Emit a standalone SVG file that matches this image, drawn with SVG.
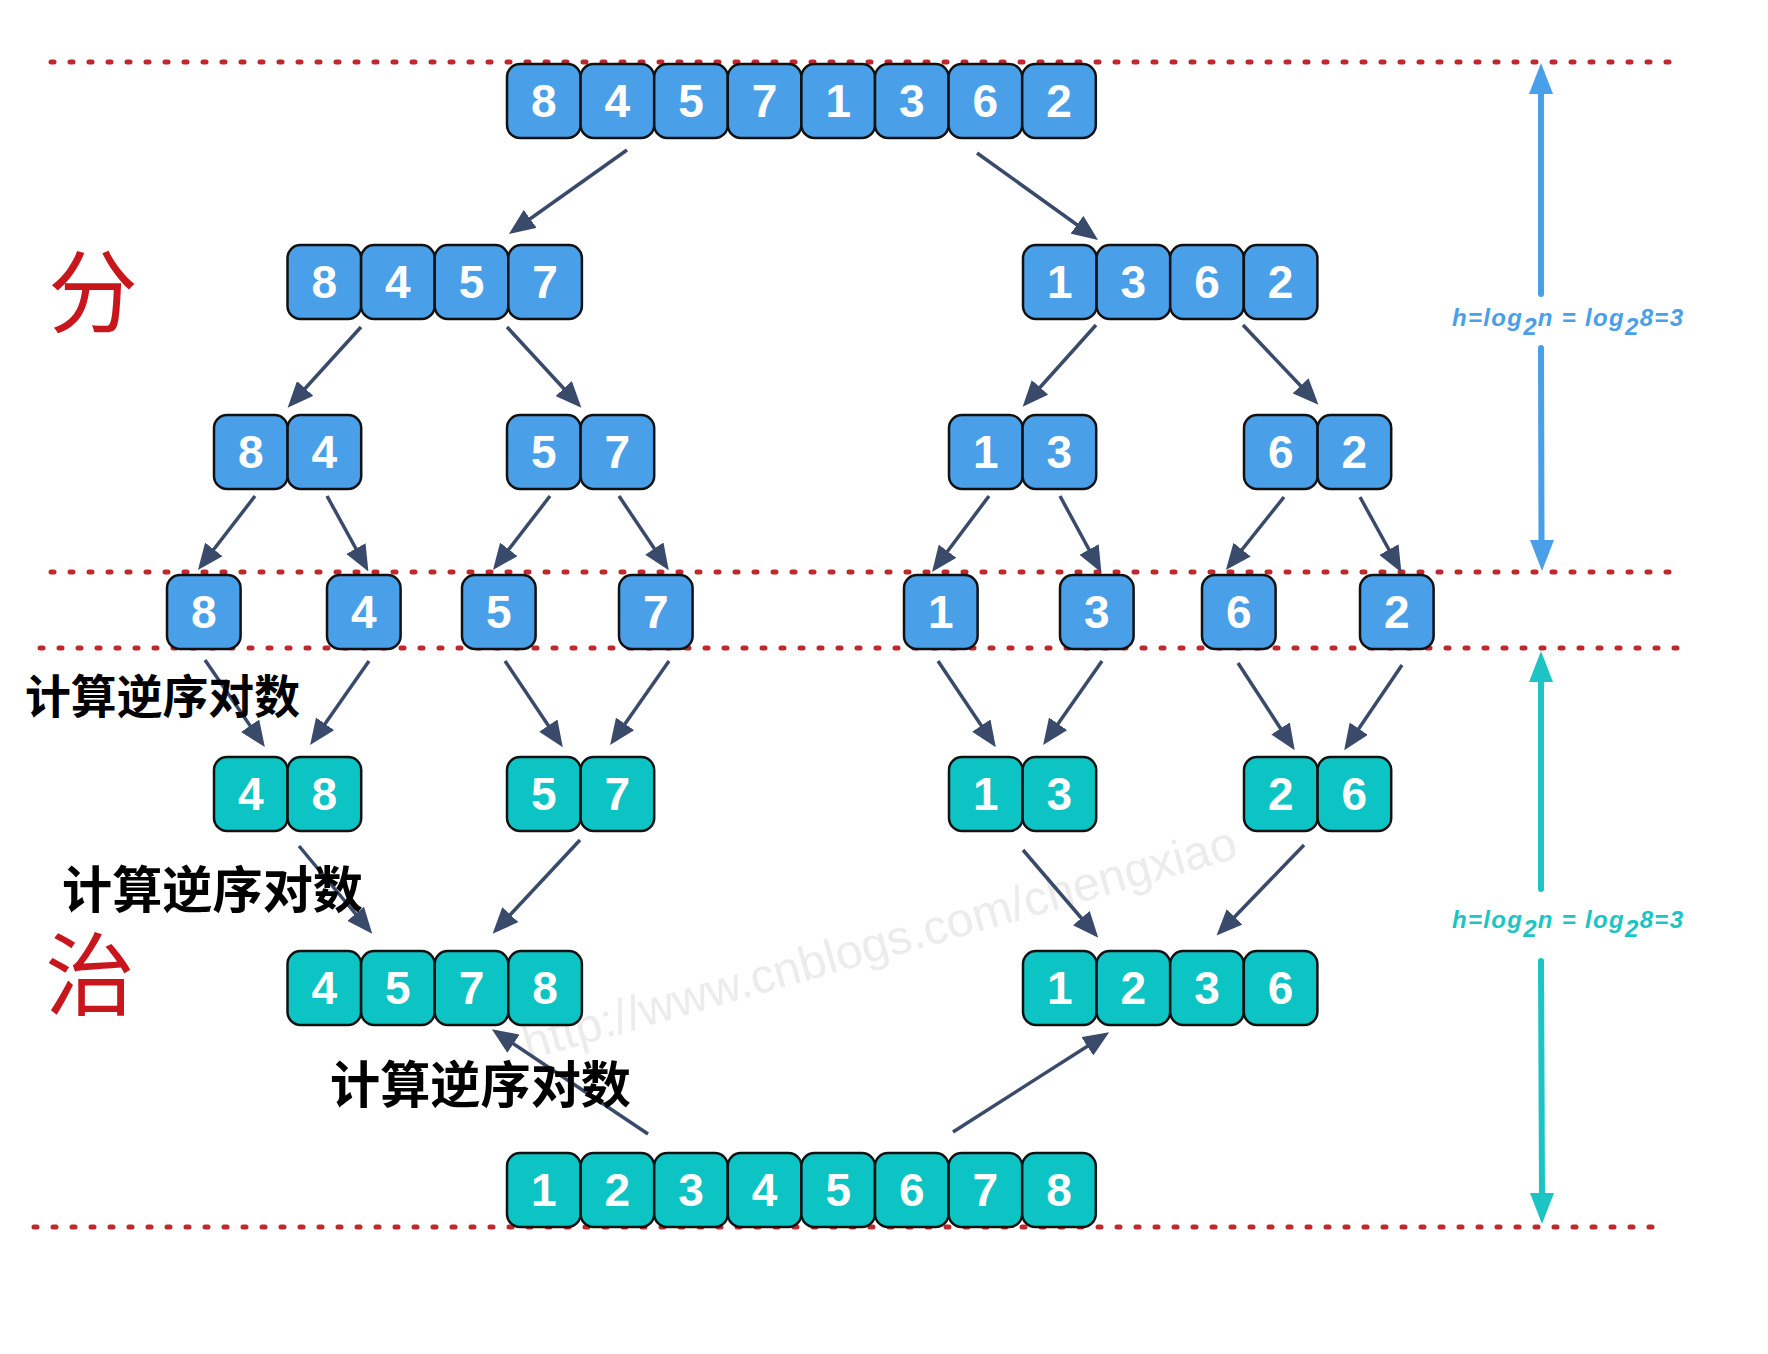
<svg xmlns="http://www.w3.org/2000/svg" width="1768" height="1354" viewBox="0 0 1768 1354">
<style>
.b{fill:#4A9FE9;stroke:#111;stroke-width:2.5}
.t{fill:#0CC4C4;stroke:#111;stroke-width:2.5}
.d{font-family:"Liberation Sans",Arial,sans-serif;font-weight:bold;font-size:46px;fill:#fff;text-anchor:middle}
.dot{stroke:#C0282D;stroke-width:5;stroke-linecap:round;stroke-dasharray:3 16;fill:none}
.ar{stroke:#3A4A6B;stroke-width:3.5;fill:none;marker-end:url(#ah)}
.lbl{font-family:"Noto Sans CJK SC","Liberation Sans",sans-serif;font-weight:bold;fill:#000}
.big{font-family:"Noto Sans CJK SC",serif;fill:#C8161D;font-size:90px;text-anchor:middle}
.f{font-family:"Liberation Sans",Arial,sans-serif;font-weight:bold;font-style:italic;font-size:24px}
</style>
<defs>
<marker id="ah" markerUnits="userSpaceOnUse" markerWidth="26" markerHeight="22" viewBox="0 0 26 22" refX="21" refY="11" orient="auto">
<path d="M0,0 L26,11 L0,22 z" fill="#3A4A6B"/>
</marker>
</defs>
<rect width="1768" height="1354" fill="#fff"/>

<!-- watermark -->
<text x="528" y="1060" transform="rotate(-15.9 528 1060)" font-family="Liberation Sans,Arial,sans-serif" font-size="48" fill="#ececec" textLength="740" lengthAdjust="spacingAndGlyphs">http://www.cnblogs.com/chengxiao</text>

<!-- dotted guide lines -->
<g id="guides">
<line class="dot" x1="51" y1="62" x2="1680" y2="62"/>
<line class="dot" x1="51" y1="572" x2="1680" y2="572"/>
<line class="dot" x1="40" y1="648" x2="1680" y2="648"/>
<line class="dot" x1="34" y1="1227" x2="1666" y2="1227"/>
</g>

<g id="connectors">
<line class="ar" x1="627" y1="150" x2="513" y2="231"/>
<line class="ar" x1="977" y1="153" x2="1094" y2="237"/>
<line class="ar" x1="361" y1="327" x2="291" y2="404"/>
<line class="ar" x1="507" y1="327" x2="578" y2="404"/>
<line class="ar" x1="1096" y1="325" x2="1026" y2="403"/>
<line class="ar" x1="1243" y1="325" x2="1315" y2="401"/>
<line class="ar" x1="255" y1="496" x2="201" y2="566"/>
<line class="ar" x1="327" y1="496" x2="366" y2="567"/>
<line class="ar" x1="550" y1="496" x2="496" y2="566"/>
<line class="ar" x1="619" y1="496" x2="666" y2="566"/>
<line class="ar" x1="989" y1="496" x2="935" y2="568"/>
<line class="ar" x1="1060" y1="496" x2="1099" y2="568"/>
<line class="ar" x1="1284" y1="497" x2="1229" y2="566"/>
<line class="ar" x1="1360" y1="497" x2="1399" y2="568"/>
<line class="ar" x1="205" y1="660" x2="262" y2="743"/>
<line class="ar" x1="369" y1="661" x2="313" y2="741"/>
<line class="ar" x1="505" y1="661" x2="560" y2="743"/>
<line class="ar" x1="669" y1="661" x2="613" y2="741"/>
<line class="ar" x1="938" y1="661" x2="993" y2="743"/>
<line class="ar" x1="1102" y1="661" x2="1046" y2="741"/>
<line class="ar" x1="1238" y1="663" x2="1292" y2="746"/>
<line class="ar" x1="1402" y1="665" x2="1347" y2="746"/>
<line class="ar" x1="299" y1="846" x2="369" y2="930"/>
<line class="ar" x1="580" y1="840" x2="496" y2="930"/>
<line class="ar" x1="1023" y1="850" x2="1095" y2="934"/>
<line class="ar" x1="1304" y1="845" x2="1220" y2="932"/>
<line class="ar" x1="648" y1="1134" x2="496" y2="1032"/>
<line class="ar" x1="953" y1="1132" x2="1105" y2="1035"/>
</g>

<!-- Row 0 -->
<g id="n0">
<rect class="b" x="507" y="64" width="73.6" height="74" rx="13"/>
<rect class="b" x="580.6" y="64" width="73.6" height="74" rx="13"/>
<rect class="b" x="654.2" y="64" width="73.6" height="74" rx="13"/>
<rect class="b" x="727.8" y="64" width="73.6" height="74" rx="13"/>
<rect class="b" x="801.4" y="64" width="73.6" height="74" rx="13"/>
<rect class="b" x="875" y="64" width="73.6" height="74" rx="13"/>
<rect class="b" x="948.6" y="64" width="73.6" height="74" rx="13"/>
<rect class="b" x="1022.2" y="64" width="73.6" height="74" rx="13"/>
<text class="d" x="543.8" y="117">8</text><text class="d" x="617.4" y="117">4</text><text class="d" x="691" y="117">5</text><text class="d" x="764.6" y="117">7</text><text class="d" x="838.2" y="117">1</text><text class="d" x="911.8" y="117">3</text><text class="d" x="985.4" y="117">6</text><text class="d" x="1059" y="117">2</text>
</g>

<!-- Row 1 -->
<g id="n1a">
<rect class="b" x="287.5" y="245" width="73.6" height="74" rx="13"/>
<rect class="b" x="361.1" y="245" width="73.6" height="74" rx="13"/>
<rect class="b" x="434.7" y="245" width="73.6" height="74" rx="13"/>
<rect class="b" x="508.3" y="245" width="73.6" height="74" rx="13"/>
<text class="d" x="324.3" y="298">8</text><text class="d" x="397.9" y="298">4</text><text class="d" x="471.5" y="298">5</text><text class="d" x="545.1" y="298">7</text>
</g>
<g id="n1b">
<rect class="b" x="1023" y="245" width="73.6" height="74" rx="13"/>
<rect class="b" x="1096.6" y="245" width="73.6" height="74" rx="13"/>
<rect class="b" x="1170.2" y="245" width="73.6" height="74" rx="13"/>
<rect class="b" x="1243.8" y="245" width="73.6" height="74" rx="13"/>
<text class="d" x="1059.8" y="298">1</text><text class="d" x="1133.4" y="298">3</text><text class="d" x="1207" y="298">6</text><text class="d" x="1280.6" y="298">2</text>
</g>

<!-- Row 2 -->
<g id="n2a">
<rect class="b" x="214" y="415" width="73.6" height="74" rx="13"/>
<rect class="b" x="287.6" y="415" width="73.6" height="74" rx="13"/>
<text class="d" x="250.8" y="468">8</text><text class="d" x="324.4" y="468">4</text>
</g>
<g id="n2b">
<rect class="b" x="507" y="415" width="73.6" height="74" rx="13"/>
<rect class="b" x="580.6" y="415" width="73.6" height="74" rx="13"/>
<text class="d" x="543.8" y="468">5</text><text class="d" x="617.4" y="468">7</text>
</g>
<g id="n2c">
<rect class="b" x="949" y="415" width="73.6" height="74" rx="13"/>
<rect class="b" x="1022.6" y="415" width="73.6" height="74" rx="13"/>
<text class="d" x="985.8" y="468">1</text><text class="d" x="1059.4" y="468">3</text>
</g>
<g id="n2d">
<rect class="b" x="1244" y="415" width="73.6" height="74" rx="13"/>
<rect class="b" x="1317.6" y="415" width="73.6" height="74" rx="13"/>
<text class="d" x="1280.8" y="468">6</text><text class="d" x="1354.4" y="468">2</text>
</g>

<!-- Row 3 -->
<g id="n3a"><rect class="b" x="167" y="575" width="73.6" height="74" rx="13"/><text class="d" x="203.8" y="628">8</text></g>
<g id="n3b"><rect class="b" x="327" y="575" width="73.6" height="74" rx="13"/><text class="d" x="363.8" y="628">4</text></g>
<g id="n3c"><rect class="b" x="462" y="575" width="73.6" height="74" rx="13"/><text class="d" x="498.8" y="628">5</text></g>
<g id="n3d"><rect class="b" x="619" y="575" width="73.6" height="74" rx="13"/><text class="d" x="655.8" y="628">7</text></g>
<g id="n3e"><rect class="b" x="904" y="575" width="73.6" height="74" rx="13"/><text class="d" x="940.8" y="628">1</text></g>
<g id="n3f"><rect class="b" x="1060" y="575" width="73.6" height="74" rx="13"/><text class="d" x="1096.8" y="628">3</text></g>
<g id="n3g"><rect class="b" x="1202" y="575" width="73.6" height="74" rx="13"/><text class="d" x="1238.8" y="628">6</text></g>
<g id="n3h"><rect class="b" x="1360" y="575" width="73.6" height="74" rx="13"/><text class="d" x="1396.8" y="628">2</text></g>

<!-- Row 4 -->
<g id="n4a">
<rect class="t" x="214" y="757" width="73.6" height="74" rx="13"/>
<rect class="t" x="287.6" y="757" width="73.6" height="74" rx="13"/>
<text class="d" x="250.8" y="810">4</text><text class="d" x="324.4" y="810">8</text>
</g>
<g id="n4b">
<rect class="t" x="507" y="757" width="73.6" height="74" rx="13"/>
<rect class="t" x="580.6" y="757" width="73.6" height="74" rx="13"/>
<text class="d" x="543.8" y="810">5</text><text class="d" x="617.4" y="810">7</text>
</g>
<g id="n4c">
<rect class="t" x="949" y="757" width="73.6" height="74" rx="13"/>
<rect class="t" x="1022.6" y="757" width="73.6" height="74" rx="13"/>
<text class="d" x="985.8" y="810">1</text><text class="d" x="1059.4" y="810">3</text>
</g>
<g id="n4d">
<rect class="t" x="1244" y="757" width="73.6" height="74" rx="13"/>
<rect class="t" x="1317.6" y="757" width="73.6" height="74" rx="13"/>
<text class="d" x="1280.8" y="810">2</text><text class="d" x="1354.4" y="810">6</text>
</g>

<!-- Row 5 -->
<g id="n5a">
<rect class="t" x="287.5" y="951" width="73.6" height="74" rx="13"/>
<rect class="t" x="361.1" y="951" width="73.6" height="74" rx="13"/>
<rect class="t" x="434.7" y="951" width="73.6" height="74" rx="13"/>
<rect class="t" x="508.3" y="951" width="73.6" height="74" rx="13"/>
<text class="d" x="324.3" y="1004">4</text><text class="d" x="397.9" y="1004">5</text><text class="d" x="471.5" y="1004">7</text><text class="d" x="545.1" y="1004">8</text>
</g>
<g id="n5b">
<rect class="t" x="1023" y="951" width="73.6" height="74" rx="13"/>
<rect class="t" x="1096.6" y="951" width="73.6" height="74" rx="13"/>
<rect class="t" x="1170.2" y="951" width="73.6" height="74" rx="13"/>
<rect class="t" x="1243.8" y="951" width="73.6" height="74" rx="13"/>
<text class="d" x="1059.8" y="1004">1</text><text class="d" x="1133.4" y="1004">2</text><text class="d" x="1207" y="1004">3</text><text class="d" x="1280.6" y="1004">6</text>
</g>

<!-- Row 6 -->
<g id="n6">
<rect class="t" x="507" y="1153" width="73.6" height="74" rx="13"/>
<rect class="t" x="580.6" y="1153" width="73.6" height="74" rx="13"/>
<rect class="t" x="654.2" y="1153" width="73.6" height="74" rx="13"/>
<rect class="t" x="727.8" y="1153" width="73.6" height="74" rx="13"/>
<rect class="t" x="801.4" y="1153" width="73.6" height="74" rx="13"/>
<rect class="t" x="875" y="1153" width="73.6" height="74" rx="13"/>
<rect class="t" x="948.6" y="1153" width="73.6" height="74" rx="13"/>
<rect class="t" x="1022.2" y="1153" width="73.6" height="74" rx="13"/>
<text class="d" x="543.8" y="1206">1</text><text class="d" x="617.4" y="1206">2</text><text class="d" x="691" y="1206">3</text><text class="d" x="764.6" y="1206">4</text><text class="d" x="838.2" y="1206">5</text><text class="d" x="911.8" y="1206">6</text><text class="d" x="985.4" y="1206">7</text><text class="d" x="1059" y="1206">8</text>
</g>

<!-- labels -->
<g id="labels">
<text class="big" x="93" y="325">分</text>
<text class="big" x="90" y="1008">治</text>
<text class="lbl" x="25" y="713" font-size="46" textLength="275" lengthAdjust="spacingAndGlyphs">计算逆序对数</text>
<text class="lbl" x="62" y="908" font-size="50" textLength="301" lengthAdjust="spacingAndGlyphs">计算逆序对数</text>
<text class="lbl" x="330" y="1103" font-size="50" textLength="301" lengthAdjust="spacingAndGlyphs">计算逆序对数</text>
</g>

<!-- height indicators -->
<g id="height-divide">
<line x1="1541" y1="90" x2="1541" y2="294" stroke="#4A9FE9" stroke-width="6" stroke-linecap="round"/>
<line x1="1541" y1="348" x2="1541.5" y2="545" stroke="#4A9FE9" stroke-width="6" stroke-linecap="round"/>
<polygon points="1541,63 1553,94 1529,94" fill="#4A9FE9"/>
<polygon points="1542,571 1554,540 1530,540" fill="#4A9FE9"/>
<text class="f" fill="#4A9FE9" x="1452" y="326" textLength="231" lengthAdjust="spacing">h=log<tspan dy="9">2</tspan><tspan dy="-9">n = log</tspan><tspan dy="9">2</tspan><tspan dy="-9">8=3</tspan></text>
</g>
<g id="height-conquer">
<line x1="1541" y1="678" x2="1541" y2="889" stroke="#1DC4C4" stroke-width="6" stroke-linecap="round"/>
<line x1="1541" y1="961" x2="1542" y2="1198" stroke="#1DC4C4" stroke-width="6" stroke-linecap="round"/>
<polygon points="1541,651 1553,682 1529,682" fill="#1DC4C4"/>
<polygon points="1542,1224 1554,1193 1530,1193" fill="#1DC4C4"/>
<text class="f" fill="#1DC4C4" x="1452" y="928" textLength="231" lengthAdjust="spacing">h=log<tspan dy="9">2</tspan><tspan dy="-9">n = log</tspan><tspan dy="9">2</tspan><tspan dy="-9">8=3</tspan></text>
</g>
</svg>
